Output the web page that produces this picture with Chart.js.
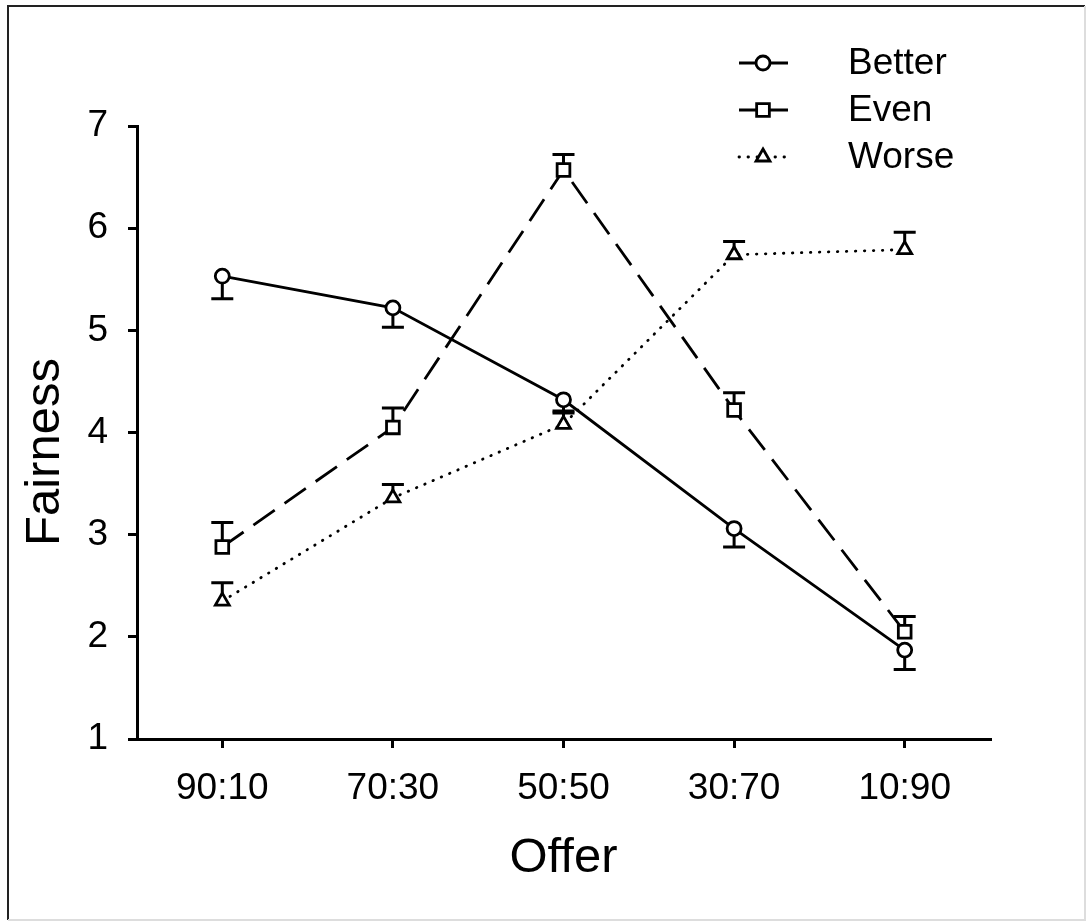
<!DOCTYPE html>
<html>
<head>
<meta charset="utf-8">
<script src="https://cdn.jsdelivr.net/npm/chart.js@4.4.0/dist/chart.umd.min.js"></script>
<style>
  html, body { margin: 0; padding: 0; background: #fff; }
  #wrap { width: 1089px; height: 923px; }
</style>
</head>
<body>
<div id="wrap"><canvas id="fairChart" width="1089" height="923"></canvas></div>
<script>
// offer categories and mean fairness ratings (+ one sided SEM)
const offers = ['90:10', '70:30', '50:50', '30:70', '10:90'];
const betterMean = [5.53, 5.22, 4.32, 3.06, 1.87];
const betterErr = [0.22, 0.19, 0.11, 0.18, 0.19];
const evenMean = [2.88, 4.05, 6.57, 4.22, 2.05];
const evenErr = [0.24, 0.19, 0.15, 0.17, 0.15];
const worseMean = [2.35, 3.36, 4.08, 5.74, 5.79];
const worseErr = [0.18, 0.13, 0.11, 0.13, 0.17];
const yTicks = [1, 2, 3, 4, 5, 6, 7];

const FONT = '"Liberation Sans", Arial, sans-serif';

// white background + thin frame round the figure
const framePlugin = {
  id: 'frame',
  beforeDraw(chart) {
    const ctx = chart.ctx;
    ctx.save();
    ctx.fillStyle = '#fff';
    ctx.fillRect(0, 0, chart.width, chart.height);
    ctx.strokeStyle = '#222';
    ctx.lineWidth = 2;
    ctx.beginPath();
    ctx.moveTo(8, 920);
    ctx.lineTo(8, 6);
    ctx.lineTo(1085, 6);
    ctx.stroke();
    ctx.strokeStyle = '#ddd';
    ctx.beginPath();
    ctx.moveTo(1085, 6);
    ctx.lineTo(1085, 920);
    ctx.lineTo(8, 920);
    ctx.stroke();
    ctx.restore();
  }
};

// one sided error bars drawn from the y scale
const errorBarPlugin = {
  id: 'errorBars',
  beforeDatasetsDraw(chart) {
    const ctx = chart.ctx;
    const yScale = chart.scales.y;
    ctx.save();
    ctx.strokeStyle = '#000';
    ctx.lineWidth = 3;
    chart.data.datasets.forEach((ds, i) => {
      const meta = chart.getDatasetMeta(i);
      meta.data.forEach((pt, j) => {
        const end = ds.data[j] + ds.errDir * ds.errors[j];
        const y0 = yScale.getPixelForValue(ds.data[j]);
        const y1 = yScale.getPixelForValue(end);
        ctx.beginPath();
        ctx.moveTo(pt.x, y0);
        ctx.lineTo(pt.x, y1);
        ctx.moveTo(pt.x - 11, y1);
        ctx.lineTo(pt.x + 11, y1);
        ctx.stroke();
      });
    });
    ctx.restore();
  }
};

// legend in the top right corner, line sample + marker
const legendPlugin = {
  id: 'cornerLegend',
  afterDraw(chart) {
    const ctx = chart.ctx;
    const rows = [63, 110, 157];
    ctx.save();
    chart.data.datasets.forEach((ds, i) => {
      const y = rows[i];
      ctx.strokeStyle = '#000';
      ctx.lineWidth = 2.8;
      ctx.lineCap = ds.legendDash.length ? 'round' : 'butt';
      ctx.setLineDash(ds.legendDash);
      ctx.beginPath();
      ctx.moveTo(739, y);
      ctx.lineTo(788, y);
      ctx.stroke();
      ctx.setLineDash([]);
      ctx.fillStyle = '#fff';
      ctx.strokeStyle = '#000';
      ctx.lineWidth = ds.pointBorderWidth;
      Chart.helpers.drawPoint(ctx, {
        pointStyle: ds.pointStyle,
        radius: ds.pointRadius,
        borderWidth: ds.pointBorderWidth
      }, 763, y);
      ctx.fillStyle = '#000';
      ctx.font = '37px ' + FONT;
      ctx.textAlign = 'left';
      ctx.textBaseline = 'middle';
      ctx.fillText(ds.label, 848, y + 1);
    });
    ctx.restore();
  }
};

// y title, placed a little below the centre like the original
const yTitlePlugin = {
  id: 'yTitle',
  afterDraw(chart) {
    const ctx = chart.ctx;
    ctx.save();
    ctx.translate(45, 452);
    ctx.rotate(-Math.PI / 2);
    ctx.fillStyle = '#000';
    ctx.font = '49px ' + FONT;
    ctx.textAlign = 'center';
    ctx.textBaseline = 'middle';
    ctx.fillText('Fairness', 0, 0);
    ctx.restore();
  }
};

function series(label, data, errors, errDir, style, radius, dash, legendDash) {
  return {
    label: label,
    data: data,
    errors: errors,
    errDir: errDir,
    borderColor: '#000',
    borderWidth: 2.8,
    borderDash: dash,
    borderCapStyle: dash.length && dash[0] < 1 ? 'round' : 'butt',
    backgroundColor: '#fff',
    pointStyle: style,
    pointRadius: radius,
    pointHoverRadius: radius,
    pointBorderWidth: 2.8,
    pointBackgroundColor: '#fff',
    pointBorderColor: '#000',
    tension: 0,
    fill: false,
    legendDash: legendDash
  };
}

const ctx = document.getElementById('fairChart').getContext('2d');
const chart = new Chart(ctx, {
  type: 'line',
  data: {
    labels: offers,
    datasets: [
      series('Better', betterMean, betterErr, -1, 'circle', 7, [], []),
      series('Even', evenMean, evenErr, 1, 'rect', 9, [26, 12], []),
      series('Worse', worseMean, worseErr, 1, 'triangle', 8, [0.5, 8.5], [0.5, 8.5])
    ]
  },
  options: {
    responsive: false,
    animation: false,
    devicePixelRatio: 1,
    layout: { padding: { top: 126, right: 99, bottom: 0, left: 0 } },
    plugins: {
      legend: { display: false },
      tooltip: { enabled: false }
    },
    scales: {
      x: {
        type: 'category',
        offset: true,
        border: { display: true, color: '#000', width: 3 },
        grid: { display: true, drawOnChartArea: false, drawTicks: true, tickLength: 9, color: '#000', lineWidth: 3 },
        ticks: { color: '#000', padding: 19, font: { family: FONT, size: 37 }, maxRotation: 0 },
        title: { display: true, text: 'Offer', color: '#000', font: { family: FONT, size: 49 }, padding: { top: 0, bottom: 35 } },
        afterFit(scale) { scale.height = 184; }
      },
      y: {
        min: 1,
        max: 7,
        afterBuildTicks(scale) { scale.ticks = yTicks.map(v => ({ value: v })); },
        border: { display: true, color: '#000', width: 3 },
        grid: { display: true, drawOnChartArea: false, drawTicks: true, tickLength: 9, color: '#000', lineWidth: 3 },
        ticks: { color: '#000', padding: 20, font: { family: FONT, size: 37 } },
        afterFit(scale) { scale.width = 137; }
      }
    }
  },
  plugins: [framePlugin, errorBarPlugin, legendPlugin, yTitlePlugin]
});
</script>
</body>
</html>
